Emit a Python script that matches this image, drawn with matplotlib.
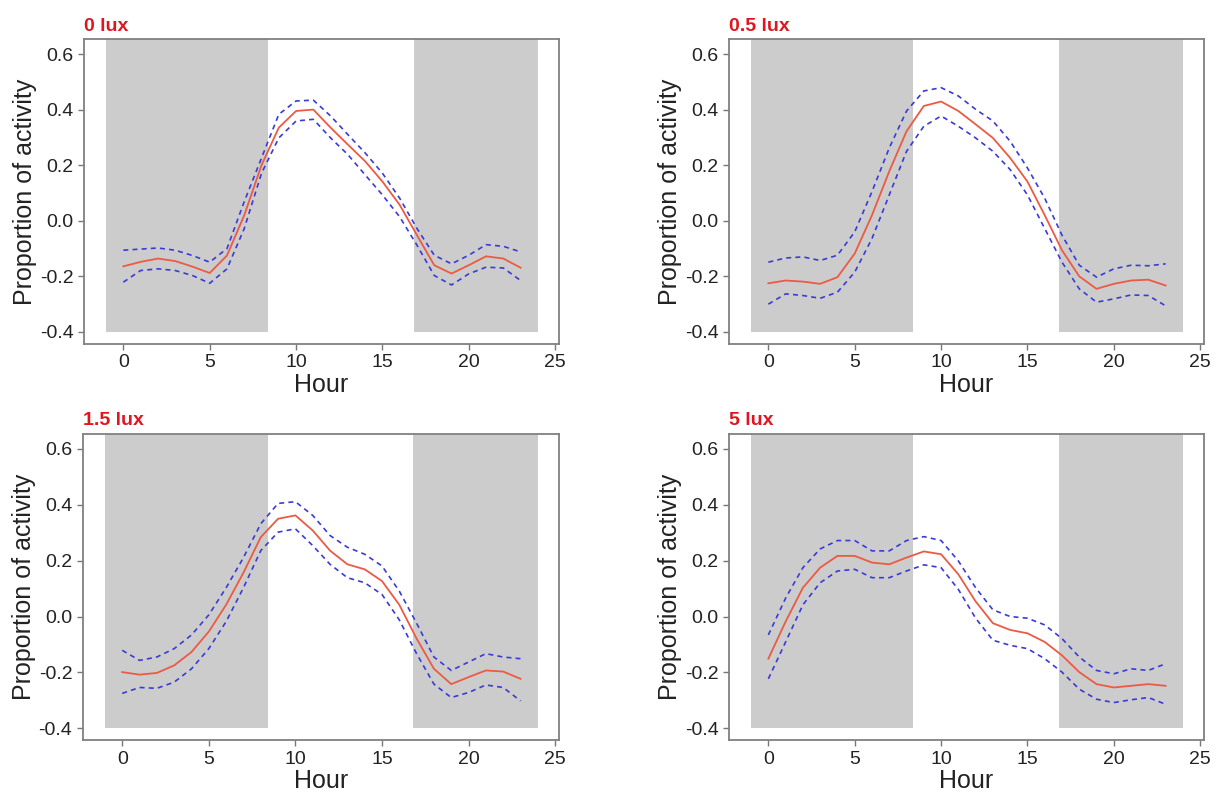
import matplotlib.pyplot as plt

plt.rcParams['font.family'] = ['Liberation Sans', 'DejaVu Sans']

hours = list(range(24))
panel_titles = ['0 lux', '0.5 lux', '1.5 lux', '5 lux']

# fitted activity (red) and confidence limits (blue dashed)
fit_0 = [-0.164, -0.148, -0.136, -0.145, -0.165, -0.188, -0.125, 0.02, 0.2, 0.335,
         0.395, 0.40, 0.335, 0.274, 0.214, 0.141, 0.057, -0.052, -0.16, -0.19,
         -0.16, -0.128, -0.136, -0.169]
upper_0 = [-0.106, -0.102, -0.098, -0.106, -0.125, -0.149, -0.1, 0.069, 0.226, 0.383,
           0.431, 0.434, 0.377, 0.31, 0.244, 0.171, 0.081, -0.028, -0.124, -0.155,
           -0.124, -0.086, -0.092, -0.112]
lower_0 = [-0.221, -0.179, -0.173, -0.179, -0.197, -0.225, -0.173, -0.028, 0.171, 0.298,
           0.359, 0.365, 0.298, 0.238, 0.165, 0.093, 0.014, -0.088, -0.197, -0.231,
           -0.191, -0.167, -0.17, -0.215]

fit_05 = [-0.225, -0.215, -0.219, -0.227, -0.203, -0.118, 0.02, 0.178, 0.322, 0.413,
          0.429, 0.395, 0.347, 0.298, 0.226, 0.141, 0.02, -0.106, -0.2, -0.245,
          -0.227, -0.215, -0.212, -0.233]
upper_05 = [-0.149, -0.134, -0.13, -0.143, -0.124, -0.04, 0.105, 0.262, 0.395, 0.467,
            0.479, 0.449, 0.401, 0.359, 0.286, 0.19, 0.081, -0.052, -0.16, -0.203,
            -0.173, -0.16, -0.162, -0.155]
lower_05 = [-0.3, -0.263, -0.269, -0.279, -0.257, -0.185, -0.064, 0.093, 0.25, 0.34,
            0.377, 0.34, 0.298, 0.25, 0.184, 0.093, -0.028, -0.149, -0.245, -0.293,
            -0.281, -0.267, -0.269, -0.306]

fit_15 = [-0.199, -0.208, -0.202, -0.175, -0.127, -0.054, 0.042, 0.157, 0.284, 0.35,
          0.362, 0.308, 0.236, 0.187, 0.169, 0.127, 0.042, -0.079, -0.187, -0.242,
          -0.217, -0.193, -0.197, -0.223]
upper_15 = [-0.121, -0.157, -0.145, -0.115, -0.066, 0.006, 0.103, 0.211, 0.332, 0.405,
            0.411, 0.362, 0.29, 0.248, 0.223, 0.181, 0.091, -0.024, -0.145, -0.193,
            -0.163, -0.133, -0.145, -0.151]
lower_15 = [-0.275, -0.254, -0.257, -0.235, -0.187, -0.115, -0.018, 0.103, 0.236, 0.302,
            0.314, 0.254, 0.187, 0.139, 0.121, 0.079, -0.012, -0.133, -0.242, -0.29,
            -0.272, -0.245, -0.254, -0.302]

fit_5 = [-0.151, -0.018, 0.103, 0.175, 0.217, 0.217, 0.193, 0.187, 0.211, 0.233,
         0.223, 0.151, 0.054, -0.024, -0.048, -0.06, -0.091, -0.139, -0.199, -0.242,
         -0.254, -0.248, -0.242, -0.248]
upper_5 = [-0.066, 0.066, 0.175, 0.242, 0.272, 0.272, 0.235, 0.235, 0.272, 0.286,
           0.272, 0.199, 0.103, 0.024, 0.0, -0.006, -0.03, -0.079, -0.145, -0.193,
           -0.205, -0.187, -0.193, -0.169]
lower_5 = [-0.223, -0.091, 0.042, 0.121, 0.163, 0.169, 0.139, 0.139, 0.163, 0.185,
           0.175, 0.097, -0.006, -0.085, -0.103, -0.115, -0.151, -0.199, -0.26, -0.296,
           -0.308, -0.298, -0.29, -0.314]

fits = [fit_0, fit_05, fit_15, fit_5]
uppers = [upper_0, upper_05, upper_15, upper_5]
lowers = [lower_0, lower_05, lower_15, lower_5]

# dark periods (shaded)
dark_periods = [(-1, 8.4), (16.8, 24)]

fig = plt.figure(figsize=(12.17, 7.96), dpi=100)
positions = [[0.069, 0.568, 0.390, 0.383], [0.599, 0.568, 0.390, 0.383],
             [0.068, 0.070, 0.391, 0.385], [0.599, 0.070, 0.390, 0.385]]

for pos, title, fit, up, lo in zip(positions, panel_titles, fits, uppers, lowers):
    ax = fig.add_axes(pos)
    for x0, x1 in dark_periods:
        ax.fill_between([x0, x1], -0.4, 0.66, color='#cccccc', lw=0, zorder=0)
    ax.plot(hours, fit, color='#ec5a44', lw=1.3, zorder=3)
    ax.plot(hours, up, color='#3a3ad6', lw=1.2, ls=(0, (3, 2.5)), zorder=2)
    ax.plot(hours, lo, color='#3a3ad6', lw=1.2, ls=(0, (3, 2.5)), zorder=2)
    ax.set_xlim(-2.28, 25.2)
    ax.set_ylim(-0.443, 0.654)
    ax.set_xticks([0, 5, 10, 15, 20, 25])
    ax.set_yticks([-0.4, -0.2, 0.0, 0.2, 0.4, 0.6])
    ax.set_yticklabels(['-0.4', '-0.2', '0.0', '0.2', '0.4', '0.6'])
    ax.tick_params(direction='out', length=4.5, width=1, color='#777777',
                   labelsize=14, labelcolor='#222222', pad=3)
    for s in ax.spines.values():
        s.set_color('#808080')
        s.set_linewidth(1.3)
    ax.set_xlabel('Hour', fontsize=18, color='#222222', labelpad=1)
    ax.set_ylabel('Proportion of activity', fontsize=18, color='#222222', labelpad=2)
    ax.set_title(title, loc='left', color='#e0151f', fontsize=14,
                 fontweight='bold', pad=6)

fig.savefig('out.png', dpi=100)
